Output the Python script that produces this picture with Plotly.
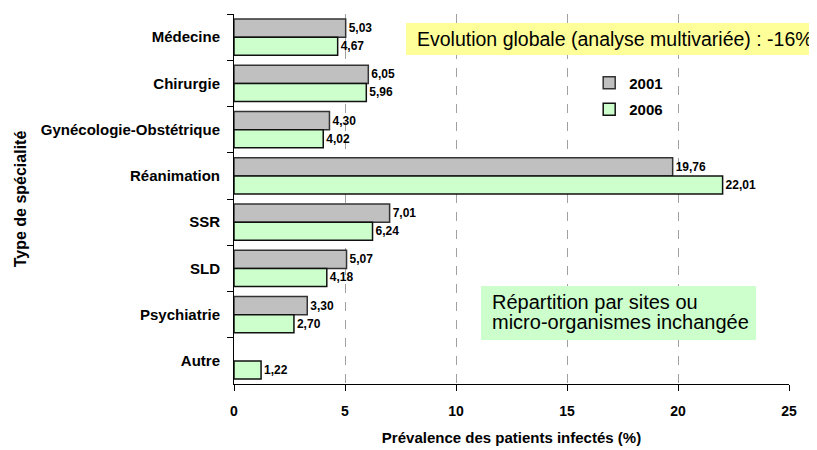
import plotly.graph_objects as go

categories = ["Médecine", "Chirurgie", "Gynécologie-Obstétrique", "Réanimation",
              "SSR", "SLD", "Psychiatrie", "Autre"]
values_2001 = [5.03, 6.05, 4.30, 19.76, 7.01, 5.07, 3.30, None]
values_2006 = [4.67, 5.96, 4.02, 22.01, 6.24, 4.18, 2.70, 1.22]
x_ticks = [0, 5, 10, 15, 20, 25]

def fmt(v):
    return "" if v is None else f"{v:.2f}".replace(".", ",")

F = "Liberation Sans, Arial, sans-serif"

fig = go.Figure()
fig.add_trace(go.Bar(
    y=categories, x=values_2001, name="2001", orientation="h", legendgroup="a",
    marker=dict(color="#C0C0C0", line=dict(color="#333333", width=1.5)),
    text=[fmt(v) for v in values_2001], textposition="outside",
    textfont=dict(family=F, size=12, color="black", weight="bold"),
    cliponaxis=False,
))
fig.add_trace(go.Bar(
    y=categories, x=values_2006, name="2006", orientation="h", legendgroup="b",
    marker=dict(color="#CCFFCC", line=dict(color="#111111", width=1.5)),
    text=[fmt(v) for v in values_2006], textposition="outside",
    textfont=dict(family=F, size=12, color="black", weight="bold"),
    cliponaxis=False,
))

# The page body adds an 8px offset, so the figure is 8px smaller than the window.
fig.update_layout(
    width=809, height=442,
    margin=dict(l=226, r=28, t=6, b=66),
    plot_bgcolor="white", paper_bgcolor="white",
    barmode="group", bargap=0.22, bargroupgap=0,
    font=dict(family=F, color="black"),
    showlegend=True,
    legend=dict(x=0.64, y=0.858, xanchor="left", yanchor="top",
                bgcolor="rgba(0,0,0,0)", traceorder="grouped",
                font=dict(family=F, size=15, weight="bold"),
                tracegroupgap=4),
    xaxis=dict(range=[0, 25], tickvals=x_ticks, ticktext=[str(t) for t in x_ticks],
               automargin=False,
               showgrid=True, gridcolor="#A0A0A0", griddash="dash", gridwidth=1,
               showline=True, linecolor="black", linewidth=1,
               ticks="outside", ticklen=6, tickcolor="black",
               ticklabelstandoff=8,
               tickfont=dict(family=F, size=14, weight="bold"),
               zeroline=False,
               title=dict(text="Prévalence des patients infectés (%)",
                          font=dict(family=F, size=15, weight="bold"),
                          standoff=14)),
    yaxis=dict(autorange="reversed", categoryorder="array", categoryarray=categories,
               automargin=False,
               showline=True, linecolor="black", linewidth=1,
               ticks="outside", ticklen=6, tickcolor="black", tickson="boundaries",
               ticklabelstandoff=10,
               tickfont=dict(family=F, size=15, weight="bold"),
               showgrid=False,
               title=dict(text="Type de spécialité",
                          font=dict(family=F, size=16, weight="bold"),
                          standoff=10)),
)

# Yellow note box
fig.add_shape(type="rect", xref="paper", yref="paper",
              x0=0.3099, x1=1.0505, y0=0.889, y1=0.9757,
              fillcolor="#FFFF99", line=dict(width=0), layer="above")
fig.add_annotation(
    xref="paper", yref="paper", x=0.6865, y=0.932, xanchor="center", yanchor="middle",
    text="Evolution globale (analyse multivariée) : -16%",
    showarrow=False, font=dict(family=F, size=19.5, color="black"),
)
# Green note box
fig.add_shape(type="rect", xref="paper", yref="paper",
              x0=0.445, x1=0.9405, y0=0.119, y1=0.265,
              fillcolor="#CCFFCC", line=dict(width=0), layer="above")
fig.add_annotation(
    xref="paper", yref="paper", x=0.461, y=0.2216, xanchor="left", yanchor="middle",
    text="Répartition par sites ou", align="left",
    showarrow=False, font=dict(family=F, size=20, color="black"),
)
fig.add_annotation(
    xref="paper", yref="paper", x=0.461, y=0.1676, xanchor="left", yanchor="middle",
    text="micro-organismes inchangée", align="left",
    showarrow=False, font=dict(family=F, size=20, color="black"),
)

fig.write_html("out.html")
